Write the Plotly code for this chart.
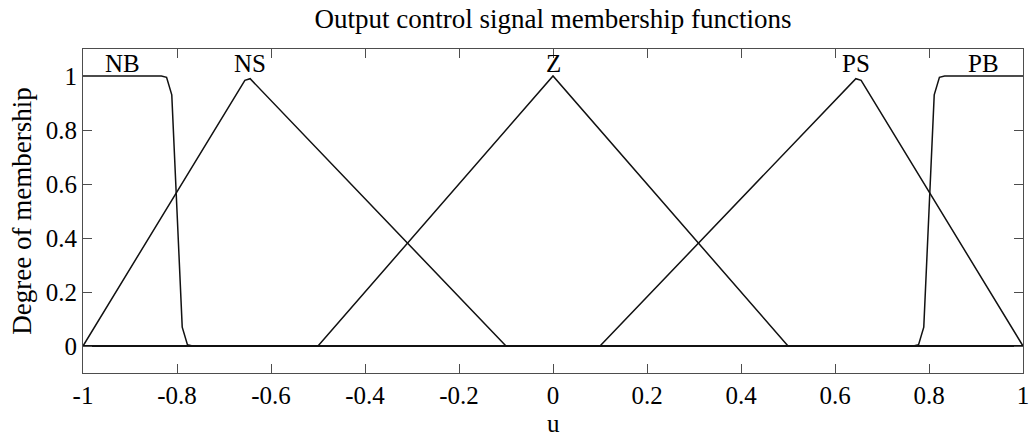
import plotly.graph_objects as go

# Membership functions of the output variable u (sampled points)
u_nb = [-1, -0.8333, -0.8222, -0.8111, -0.8, -0.7889, -0.7778, -0.7667, 1]
mu_nb = [1, 1, 0.995, 0.93, 0.5, 0.07, 0.005, 0, 0]

u_ns = [-1, -0.6556, -0.6444, -0.1, 1]
mu_ns = [0, 0.984, 0.99, 0, 0]

u_z = [-1, -0.5, 0, 0.5, 1]
mu_z = [0, 0, 1, 0, 0]

u_ps = [-1, 0.1, 0.6444, 0.6556, 1]
mu_ps = [0, 0, 0.99, 0.984, 0]

u_pb = [-1, 0.7667, 0.7778, 0.7889, 0.8, 0.8111, 0.8222, 0.8333, 1]
mu_pb = [0, 0, 0.005, 0.07, 0.5, 0.93, 0.995, 1, 1]

mf_names = ["NB", "NS", "Z", "PS", "PB"]
label_u = [-0.915, -0.645, 0.0, 0.645, 0.915]

x_ticks = [-1, -0.8, -0.6, -0.4, -0.2, 0, 0.2, 0.4, 0.6, 0.8, 1]
x_tick_text = ["-1", "-0.8", "-0.6", "-0.4", "-0.2", "0", "0.2", "0.4", "0.6", "0.8", "1"]
y_ticks = [0, 0.2, 0.4, 0.6, 0.8, 1]
y_tick_text = ["0", "0.2", "0.4", "0.6", "0.8", "1"]

FONT = "Liberation Serif"
LINE = "#111111"
AXIS = "#4d4d4d"

fig = go.Figure()
for xs, ys, name in [(u_nb, mu_nb, "NB"), (u_ns, mu_ns, "NS"), (u_z, mu_z, "Z"),
                     (u_ps, mu_ps, "PS"), (u_pb, mu_pb, "PB")]:
    fig.add_trace(go.Scatter(x=xs, y=ys, mode="lines", name=name,
                             line=dict(color=LINE, width=1.5), showlegend=False,
                             hoverinfo="skip"))

# Membership function names above each peak
for name, xu in zip(mf_names, label_u):
    fig.add_annotation(x=xu, y=1.0, text=name, showarrow=False, xanchor="center",
                       yanchor="bottom", yshift=-3,
                       font=dict(family=FONT, size=25, color="#000"))

# x-axis title placed under the tick labels
fig.add_annotation(x=0.5, y=-0.203, xref="paper", yref="paper", text="u",
                   showarrow=False, xanchor="center", yanchor="bottom",
                   font=dict(family=FONT, size=25, color="#000"))

fig.update_layout(
    width=1035, height=439,
    margin=dict(l=83, r=6, t=49, b=66),
    plot_bgcolor="white", paper_bgcolor="white",
    title=dict(text="Output control signal membership functions", xref="paper", x=0.5,
               xanchor="center", y=0.958, yanchor="middle",
               font=dict(family=FONT, size=27, color="#000")),
    font=dict(family=FONT, size=25, color="#000"),
)
fig.update_xaxes(range=[-1, 1], tickvals=x_ticks, ticktext=x_tick_text,
                 ticks="inside", ticklen=9, tickcolor=AXIS, tickwidth=1,
                 showline=True, linecolor=AXIS, linewidth=1, mirror="ticks",
                 showgrid=False, zeroline=False, ticklabeloverflow="allow",
                 tickfont=dict(family=FONT, size=25))
fig.update_yaxes(range=[-0.1, 1.1], tickvals=y_ticks, ticktext=y_tick_text,
                 ticks="inside", ticklen=9, tickcolor=AXIS, tickwidth=1,
                 showline=True, linecolor=AXIS, linewidth=1, mirror="ticks",
                 showgrid=False, zeroline=False,
                 title=dict(text="Degree of membership", standoff=6,
                            font=dict(family=FONT, size=27)),
                 tickfont=dict(family=FONT, size=25))

fig.write_html("out.html")
